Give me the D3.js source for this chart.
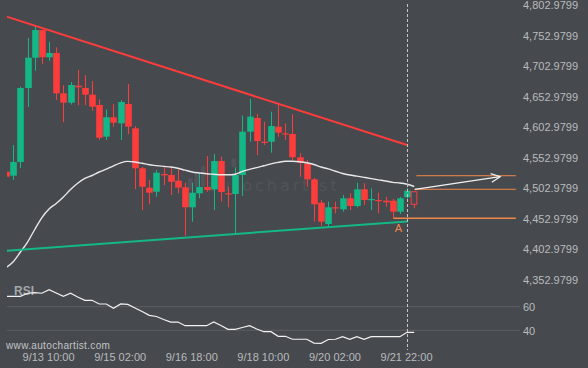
<!DOCTYPE html>
<html><head><meta charset="utf-8">
<script src="https://cdn.jsdelivr.net/npm/d3@7"></script>
<style>html,body{margin:0;padding:0;background:#46494e;}svg{display:block;}</style>
</head><body>
<script>
// ---- data ----
const opens  = [4529.3,4522.8,4545.2,4666.5,4716.1,4761.5,4716.8,4723.8,4657.8,4642.4,4670.3,4666.5,4655.5,4638.6,4586.7,4618.5,4608.6,4640.2,4600.4,4534.9,4503.1,4496.5,4525.5,4523.9,4514.5,4503.7,4471,4493.9,4504.2,4500.5,4546.8,4493.9,4492.8,4523.9,4594.9,4617.3,4578.5,4578.5,4603.1,4592.2,4591.1,4552.9,4543,4516.8,4478.5,4443.6,4471,4467.7,4485.7,4473.1,4500.5,4483,4483,4481.8,4481.8,4463.8,4487.4,4496.5];
const highs  = [4531,4573.1,4668.6,4748.4,4768.1,4762,4742.4,4733.2,4670.9,4676.3,4696,4687.8,4677.9,4648,4631.6,4639.8,4646.8,4673,4604,4537,4515.7,4532,4537.5,4537.5,4533.2,4511.3,4511.3,4526.7,4555,4558.3,4553.9,4504.7,4536.5,4621.1,4648.4,4623.9,4611.3,4627.6,4639.8,4608.6,4623.4,4559.5,4548.5,4519,4483,4480.2,4480.2,4491.1,4493.9,4511.3,4510.3,4502.1,4494.9,4488,4485,4488,4502,4497];
const lows   = [4519,4515.7,4535.4,4635.4,4694.8,4705.3,4711.2,4646.8,4610.3,4639.3,4638.4,4638.4,4629.3,4581.3,4581.3,4603.1,4581.3,4591.1,4500.5,4466.5,4475.9,4488.3,4507.5,4491.1,4493.9,4424.4,4447.4,4485.7,4496.5,4466.5,4480.2,4471,4428.4,4489.5,4578.5,4556.7,4573.1,4560.5,4586.7,4581.3,4548.5,4521.1,4504.7,4447.4,4440.3,4440.3,4461.1,4463.8,4466.5,4471,4474.8,4466.5,4461.1,4472,4452.5,4460,4485,4469.3];
const closes = [4521.1,4545.2,4666.5,4716.1,4761.5,4716.8,4723.8,4657.8,4642.4,4671.4,4667.6,4655.5,4635.8,4585,4618.5,4609.6,4643.5,4603.1,4534.9,4504.7,4494.9,4527.7,4523.4,4512.9,4503.1,4471,4494.9,4504.2,4499.3,4546.8,4496,4492.8,4523.9,4594.9,4619.5,4579.6,4576.8,4604.2,4593.2,4591,4552.9,4544,4516.8,4475.9,4447.4,4471,4469.9,4485.7,4473.1,4500.5,4483,4484.6,4481.4,4479.2,4463.8,4485.7,4498.2,4475.9];
const maValues = [4372.3,4381.8,4397.7,4414.1,4434.6,4454.2,4468.2,4477.2,4487.8,4500.1,4510.3,4518.2,4523.1,4528.8,4533.4,4539,4543.9,4546.2,4545.2,4543.1,4540.6,4539.3,4538,4537,4534.9,4531.8,4528.8,4527.2,4526,4525.1,4524.2,4524.2,4525.2,4529.8,4533.2,4535.9,4539,4542.1,4544.5,4546.5,4546.5,4545.7,4544,4541.1,4537,4533.9,4530.1,4526.4,4523.9,4522,4520,4518,4516,4514.1,4511.9,4510.8,4508.7,4505.1];
const rsiValues = [68.8,68.8,68.8,71.4,72,71.4,74.4,71.6,68.8,71.4,68.2,65.4,65.4,62.3,62.3,58.6,62.3,61.9,58.9,55.9,52.7,51.7,49.2,47,47,43.9,43.9,43.9,43.9,47,44.1,40.8,40.8,42.4,43.9,41.1,38.8,38.8,34.9,34.9,32.4,32.4,32.4,29.2,29,32.2,32.4,34.6,32.4,34.6,32.4,34.6,34.6,34.6,34.6,34.6,38.3,38.3];
const priceTicks = [4802.9799,4752.9799,4702.9799,4652.9799,4602.9799,4552.9799,4502.9799,4452.9799,4402.9799,4352.9799];
const rsiTicks = [60,40];
const xTickIdx = [6,16,26,36,46,56];
const xTickLabels = ["9/13 10:00","9/15 02:00","9/16 18:00","9/18 10:00","9/20 02:00","9/21 22:00"];
const resistanceLine = [{i:0,p:4783.8},{i:56,p:4573}];
const supportLine = [{i:0,p:4399.7},{i:56,p:4447.9}];
const levelA = [{i:54.1,p:4452.9},{i:71.2,p:4452.9}];
const levelBreak = [{i:57,p:4500.5},{i:71.2,p:4500.5}];
const levelTarget = [{i:57.3,p:4522.7},{i:71.2,p:4522.7}];
const forecastArrow = [{i:57.1,p:4500.5},{i:69,p:4521.1}];
const markerA = {i:54.8,p:4436.6,label:"A"};
const currentIdx = 56;

// ---- drawing ----
const W=588,H=368;
const BG="#46494e", GREEN="#13b886", RED="#fd3c3c", ORANGE="#f0874a", TXT="#b9bbbd";
const FONT="'Liberation Sans', Arial, sans-serif";
const svg=d3.select("body").append("svg").attr("width",W).attr("height",H);
svg.append("rect").attr("width",W).attr("height",H).attr("fill",BG);

const x=d3.scaleLinear().domain([0,57]).range([6.1,414.2]);
const y=d3.scaleLinear().domain([4352.9799,4802.9799]).range([279.3,4.7]);
const ry=d3.scaleLinear().domain([40,60]).range([330.3,306.7]);

svg.append("clipPath").attr("id","plot").append("rect").attr("x",7).attr("y",0).attr("width",513).attr("height",300);
svg.append("clipPath").attr("id","rsi").append("rect").attr("x",7).attr("y",280).attr("width",513).attr("height",80);

// watermark
const wm=svg.append("g");
[[188,178,12],[194.5,172,15],[201,166,21],[231.5,158,9]].forEach(b=>{
  wm.append("rect").attr("x",b[0]).attr("y",b[1]).attr("width",4.5).attr("height",b[2]).attr("rx",2).attr("fill","#515459");
});
wm.append("text").attr("x",207).attr("y",191).attr("font-family","'DejaVu Sans', sans-serif").attr("font-size",16)
  .attr("letter-spacing",3).attr("fill","#515459").text("autochartist");

// RSI grid
svg.append("g").selectAll("line").data(rsiTicks).join("line")
  .attr("x1",7).attr("x2",520).attr("y1",d=>ry(d)).attr("y2",d=>ry(d))
  .attr("stroke","#5b5f64").attr("stroke-width",1);

// candles
const data=opens.map((o,i)=>({i,o,h:highs[i],l:lows[i],c:closes[i]}));
const cg=svg.append("g").attr("clip-path","url(#plot)");
const bw=6.6;
cg.selectAll("line.w").data(data).join("line").attr("class","w")
  .attr("x1",d=>Math.round(x(d.i))+0.5).attr("x2",d=>Math.round(x(d.i))+0.5)
  .attr("y1",d=>y(d.h)).attr("y2",d=>y(d.l))
  .attr("stroke",d=>d.c>=d.o?GREEN:RED).attr("stroke-width",1);
cg.selectAll("rect.b").data(data).join("rect").attr("class","b")
  .attr("x",d=>Math.round(x(d.i))+0.5-bw/2).attr("width",d=>d.i===57?bw-1:bw)
  .attr("y",d=>y(Math.max(d.o,d.c)))
  .attr("height",d=>Math.max(1.2,Math.abs(y(d.o)-y(d.c))))
  .attr("fill",d=>d.i===57?BG:(d.c>=d.o?GREEN:RED))
  .attr("stroke",d=>d.i===57?RED:"none").attr("stroke-width",1);

// moving average
const line=d3.line().x((d,i)=>x(i)).y(d=>y(d)).curve(d3.curveMonotoneX);
cg.append("path").attr("d",line(maValues)).attr("fill","none").attr("stroke","#e8e8e8").attr("stroke-width",1.4);

// trendlines
const tl=d3.line().x(d=>x(d.i)).y(d=>y(d.p));
cg.append("path").attr("d",tl(resistanceLine)).attr("stroke",RED).attr("stroke-width",2).attr("fill","none");
cg.append("path").attr("d",tl(supportLine)).attr("stroke",GREEN).attr("stroke-width",2).attr("fill","none");

// levels
[levelA,levelBreak,levelTarget].forEach((l,k)=>{
  svg.append("path").attr("d",tl(l)).attr("stroke",ORANGE).attr("stroke-width",k===0?1.5:1).attr("fill","none");
});
svg.append("text").attr("x",x(markerA.i)).attr("y",y(markerA.p)).attr("text-anchor","middle").attr("dy","0.35em")
  .attr("font-family",FONT).attr("font-size",11).attr("fill",ORANGE).text(markerA.label);

// arrow
const a0=forecastArrow[0],a1=forecastArrow[1];
const ax1=x(a1.i),ay1=y(a1.p),ax0=x(a0.i),ay0=y(a0.p);
const ang=Math.atan2(ay1-ay0,ax1-ax0);
svg.append("path").attr("d",tl(forecastArrow)).attr("stroke","#f2f2f2").attr("stroke-width",1.3).attr("fill","none");
const hl=10, ha=0.45;
svg.append("path").attr("d",`M${ax1-hl*Math.cos(ang-ha)},${ay1-hl*Math.sin(ang-ha)}L${ax1},${ay1}L${ax1-hl*Math.cos(ang+ha)},${ay1-hl*Math.sin(ang+ha)}`)
  .attr("stroke","#f2f2f2").attr("stroke-width",1.3).attr("fill","none");

// RSI
const rl=d3.line().x((d,i)=>x(i)).y(d=>ry(d));
svg.append("text").attr("x",14).attr("y",291).attr("dy","0.35em").attr("font-family",FONT).attr("font-size",12)
  .attr("font-weight","bold").attr("fill","#a3a7ab").text("RSI");
svg.append("path").attr("clip-path","url(#rsi)").attr("d",rl(rsiValues)).attr("fill","none").attr("stroke","#f2f2f2").attr("stroke-width",1.2);

// current time dashed line
svg.append("line").attr("x1",Math.round(x(currentIdx))+0.5).attr("x2",Math.round(x(currentIdx))+0.5).attr("y1",4).attr("y2",350)
  .attr("stroke","#c4c6c8").attr("stroke-width",1).attr("stroke-dasharray","3,2");

// axes
function styleAxis(g){
  g.select(".domain").remove();
  g.selectAll(".tick line").remove();
  g.selectAll("text").attr("font-family",FONT).attr("font-size",11).attr("fill",TXT);
}
svg.append("g").attr("transform","translate(523,0)")
  .call(d3.axisRight(y).tickValues(priceTicks).tickFormat(d3.format(",.4f")).tickSize(0).tickPadding(0))
  .call(styleAxis).selectAll("text").attr("dy","0.35em");
svg.append("g").attr("transform","translate(523,0)")
  .call(d3.axisRight(ry).tickValues(rsiTicks).tickSize(0).tickPadding(0))
  .call(styleAxis).selectAll("text").attr("dy","0.35em");
svg.append("g").attr("transform","translate(-1,356.7)")
  .call(d3.axisBottom(x).tickValues(xTickIdx).tickFormat((d,i)=>xTickLabels[i]).tickSize(0).tickPadding(0))
  .call(styleAxis).selectAll("text").attr("y",0).attr("dy","0.35em");

svg.append("text").attr("x",6).attr("y",345).attr("dy","0.35em").attr("font-family",FONT).attr("font-size",10)
  .attr("letter-spacing",0.35).attr("fill","#c2c4c6").text("www.autochartist.com");
</script>
</body></html>
